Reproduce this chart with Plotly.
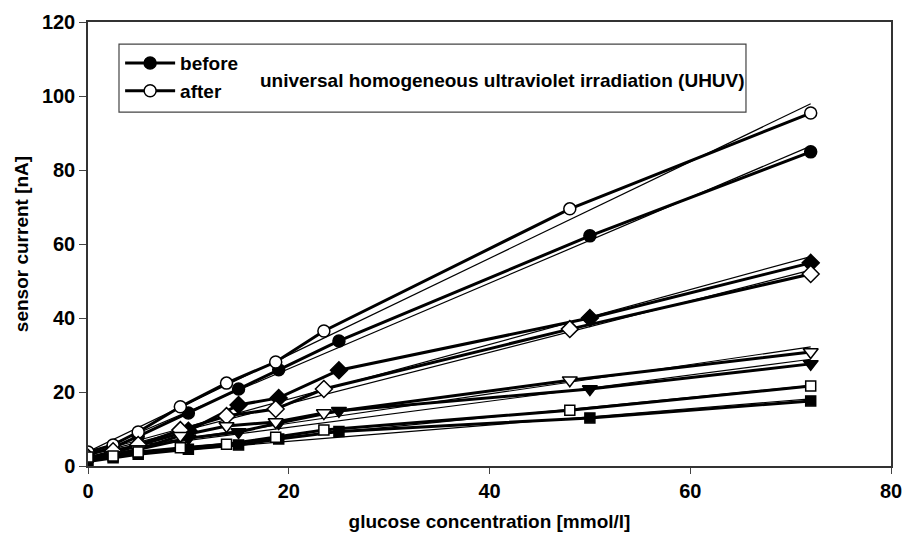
import numpy as np
import plotly.graph_objects as go

# ---- data ----
x_before = [0, 2.5, 5, 10, 15, 19, 25, 50, 72]
x_after = [0, 2.5, 5, 9.2, 13.8, 18.7, 23.5, 48, 72]

circle_before = [3.0, 5.0, 8.0, 14.3, 20.8, 26.0, 33.8, 62.2, 84.9]
circle_after = [3.8, 5.7, 9.2, 16.0, 22.4, 28.1, 36.5, 69.5, 95.4]
diamond_before = [2.0, 3.5, 5.5, 9.5, 16.5, 18.4, 25.9, 40.0, 54.9]
diamond_after = [2.2, 4.0, 5.7, 9.7, 13.5, 15.4, 20.8, 37.0, 51.9]
triangle_before = [1.5, 3.0, 4.5, 7.5, 9.2, 11.6, 14.9, 20.8, 27.6]
triangle_after = [2.0, 3.0, 4.5, 8.2, 10.8, 11.9, 14.3, 23.2, 30.8]
square_before = [1.2, 2.2, 3.2, 4.5, 5.7, 7.3, 9.3, 13.0, 17.6]
square_after = [2.4, 2.7, 3.8, 4.9, 5.9, 7.8, 9.7, 15.1, 21.6]

x_ticks = [0, 20, 40, 60, 80]
y_ticks = [0, 20, 40, 60, 80, 100, 120]

series = [
    ("before", x_before, circle_before, "circle", "black", 12, True),
    ("after", x_after, circle_after, "circle", "white", 12, True),
    ("before diamond", x_before, diamond_before, "diamond", "black", 13, False),
    ("after diamond", x_after, diamond_after, "diamond", "white", 13, False),
    ("before triangle", x_before, triangle_before, "triangle-down", "black", 13, False),
    ("after triangle", x_after, triangle_after, "triangle-down", "white", 13, False),
    ("before square", x_before, square_before, "square", "black", 10, False),
    ("after square", x_after, square_after, "square", "white", 10, False),
]

FONT = "Liberation Sans, Arial, sans-serif"
fig = go.Figure()

# thin linear-fit lines
for name, xs, ys, sym, col, size, leg in series:
    k, b = np.polyfit(xs, ys, 1)
    xf = np.array([xs[0], xs[-1]])
    fig.add_trace(go.Scatter(x=xf, y=k * xf + b, mode="lines",
                             line=dict(color="black", width=1.2),
                             showlegend=False, hoverinfo="skip"))

# thick data lines with markers
for name, xs, ys, sym, col, size, leg in series:
    fig.add_trace(go.Scatter(
        x=xs, y=ys, mode="lines+markers", name=name.split()[0] if leg else name,
        showlegend=leg,
        line=dict(color="black", width=3),
        marker=dict(symbol=sym, size=size, color=col,
                    line=dict(color="black", width=1.5)),
    ))

fig.update_layout(
    width=903, height=535,
    margin=dict(l=88, r=12, t=22, b=69),
    paper_bgcolor="white", plot_bgcolor="white",
    font=dict(family=FONT, color="black", size=19, weight="bold"),
    legend=dict(x=0.04, y=0.95, xanchor="left", yanchor="top",
                bgcolor="rgba(0,0,0,0)", borderwidth=0, itemwidth=50,
                font=dict(size=19, weight="bold"), tracegroupgap=0),
    shapes=[dict(type="rect", xref="paper", yref="paper",
                 x0=0.0386, x1=0.8194, y0=0.797, y1=0.950,
                 line=dict(color="#444", width=1.2))],
    annotations=[dict(text="universal homogeneous ultraviolet irradiation (UHUV)",
                      xref="paper", yref="paper", x=0.2117, y=0.869,
                      xanchor="left", yanchor="middle", showarrow=False,
                      font=dict(size=19, weight="bold"))],
)
fig.update_xaxes(range=[0, 80], tickvals=x_ticks, ticks="outside", ticklen=6,
                 tickwidth=1.2, showline=True, linecolor="#333", linewidth=1.5,
                 mirror=True, showgrid=False, zeroline=False, automargin=False,
                 title=dict(text="glucose concentration [mmol/l]", standoff=14,
                            font=dict(size=19, weight="bold")),
                 tickfont=dict(size=20, weight="bold"))
fig.update_yaxes(range=[0, 120], tickvals=y_ticks, ticks="outside", ticklen=7,
                 tickwidth=1.2, showline=True, linecolor="#333", linewidth=1.5,
                 mirror=True, showgrid=False, zeroline=False, automargin=False,
                 title=dict(text="sensor current [nA]", standoff=8,
                            font=dict(size=19, weight="bold")),
                 tickfont=dict(size=20, weight="bold"))

fig.write_html("out.html")
